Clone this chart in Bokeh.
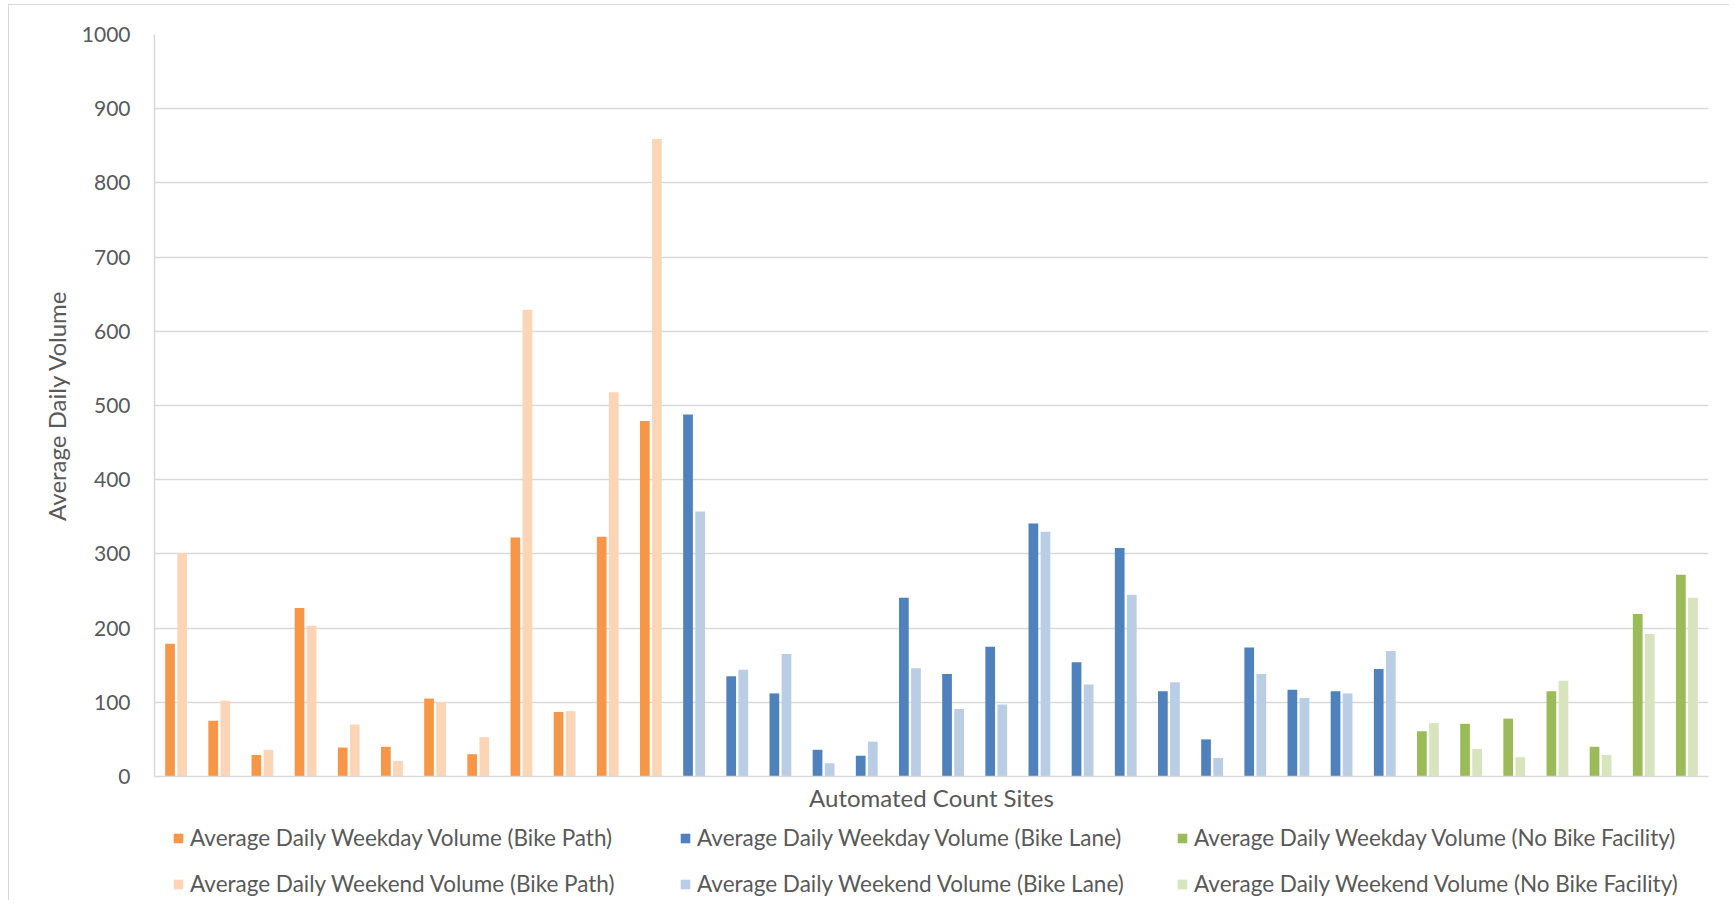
import numpy as np
from bokeh.plotting import figure
from bokeh.layouts import column
from bokeh.models import Range1d, FixedTicker, Legend, LegendItem
from bokeh.embed import file_html
from bokeh.resources import INLINE

# ---- data ----
path_weekday = [179, 75, 29, 227, 39, 40, 105, 30, 322, 87, 323, 479]
path_weekend = [301, 102, 36, 203, 70, 21, 100, 53, 629, 88, 518, 859]
lane_weekday = [488, 135, 112, 36, 28, 241, 138, 175, 341, 154, 308, 115, 50, 174, 117, 115, 145]
lane_weekend = [357, 144, 165, 18, 47, 146, 91, 97, 330, 124, 245, 127, 25, 138, 106, 112, 169]
none_weekday = [61, 71, 78, 115, 40, 219, 272]
none_weekend = [72, 37, 26, 129, 29, 192, 241]

y_ticks = [0, 100, 200, 300, 400, 500, 600, 700, 800, 900, 1000]

labels = [
    ("Average Daily Weekday Volume (Bike Path)", "Average Daily Weekend Volume (Bike Path)"),
    ("Average Daily Weekday Volume (Bike Lane)", "Average Daily Weekend Volume (Bike Lane)"),
    ("Average Daily Weekday Volume (No Bike Facility)", "Average Daily Weekend Volume (No Bike Facility)"),
]
colors = [("#F79646", "#FBD5B5"), ("#4F81BD", "#B9CDE5"), ("#9BBB59", "#D7E4BD")]
groups = [(path_weekday, path_weekend), (lane_weekday, lane_weekend), (none_weekday, none_weekend)]

FONT = "Lato"
TXT = "#595959"
GRID = "#d9d9d9"

n_sites = sum(len(g[0]) for g in groups)

# ---- main chart ----
p = figure(width=1720, height=811, output_backend="svg", toolbar_location=None,
           x_range=Range1d(0, n_sites), y_range=Range1d(0, 1000),
           min_border_left=145, min_border_top=29, min_border_right=21, min_border_bottom=40)
p.outline_line_color = None
p.background_fill_color = "white"
p.border_fill_color = "white"

start = 0
W = 0.225
OFF = 0.14
for (wk, we), (c1, c2) in zip(groups, colors):
    n = len(wk)
    centers = np.arange(start, start + n) + 0.5
    p.vbar(x=centers - OFF, top=wk, width=W, bottom=0, fill_color=c1, line_color=None)
    p.vbar(x=centers + OFF, top=we, width=W, bottom=0, fill_color=c2, line_color=None)
    start += n

p.yaxis.ticker = FixedTicker(ticks=y_ticks)
p.yaxis.major_tick_line_color = None
p.yaxis.minor_tick_line_color = None
p.yaxis.axis_line_color = GRID
p.yaxis.axis_line_width = 1.5
p.yaxis.major_label_standoff = 18
p.yaxis.major_label_text_font = FONT
p.yaxis.major_label_text_font_size = "21px"
p.yaxis.major_label_text_color = TXT
p.yaxis.axis_label = "Average Daily Volume"
p.yaxis.axis_label_text_font = FONT
p.yaxis.axis_label_text_font_size = "24px"
p.yaxis.axis_label_text_font_style = "normal"
p.yaxis.axis_label_text_color = TXT
p.yaxis.axis_label_standoff = 8

p.xaxis.ticker = FixedTicker(ticks=[])
p.xaxis.major_tick_line_color = None
p.xaxis.minor_tick_line_color = None
p.xaxis.axis_line_color = GRID
p.xaxis.axis_line_width = 1.5
p.xaxis.axis_label = "Automated Count Sites"
p.xaxis.axis_label_text_font = FONT
p.xaxis.axis_label_text_font_size = "24px"
p.xaxis.axis_label_text_font_style = "normal"
p.xaxis.axis_label_text_color = TXT
p.xaxis.axis_label_standoff = 6

p.xgrid.grid_line_color = None
p.ygrid.ticker = FixedTicker(ticks=y_ticks)
p.ygrid.grid_line_color = GRID
p.ygrid.grid_line_width = 1.5

# ---- legend strip (3 columns x 2 rows); its frame is aligned with the chart's frame ----
lf = figure(width=1720, height=84, output_backend="svg", toolbar_location=None,
            x_axis_location=None, y_axis_location=None,
            x_range=Range1d(0, 1), y_range=Range1d(0, 1),
            min_border_left=145, min_border_right=21, min_border_top=0, min_border_bottom=0)
lf.outline_line_color = None
lf.xgrid.grid_line_color = None
lf.ygrid.grid_line_color = None
lf.background_fill_color = "white"
lf.border_fill_color = "white"

col_x = [18, 525, 1022]
for (c1, c2), (l1, l2), x in zip(colors, labels, col_x):
    # zero-height swatch renderers: they only provide the legend glyphs
    g1 = lf.vbar(x=[0.5], top=[0], bottom=[0], width=0.0, fill_color=c1, line_color=None)
    g2 = lf.vbar(x=[0.5], top=[0], bottom=[0], width=0.0, fill_color=c2, line_color=None)
    leg = Legend(items=[LegendItem(label=l1, renderers=[g1]), LegendItem(label=l2, renderers=[g2])],
                 location=(x, 3), orientation="vertical")
    leg.spacing = 19
    leg.padding = 0
    leg.margin = 0
    leg.glyph_width = 12
    leg.glyph_height = 12
    leg.label_standoff = 6
    leg.label_height = 26
    leg.label_text_font = FONT
    leg.label_text_font_size = "22.5px"
    leg.label_text_color = TXT
    leg.background_fill_alpha = 0
    leg.border_line_color = None
    lf.add_layout(leg, "center")

layout = column(p, lf, spacing=0)
layout.stylesheets = [":host { margin-left: 8px; margin-top: 4px; "
                      "border-left: 1px solid #d9d9d9; border-top: 1px solid #d9d9d9; }"]

open("out.html", "w").write(file_html(layout, INLINE))
